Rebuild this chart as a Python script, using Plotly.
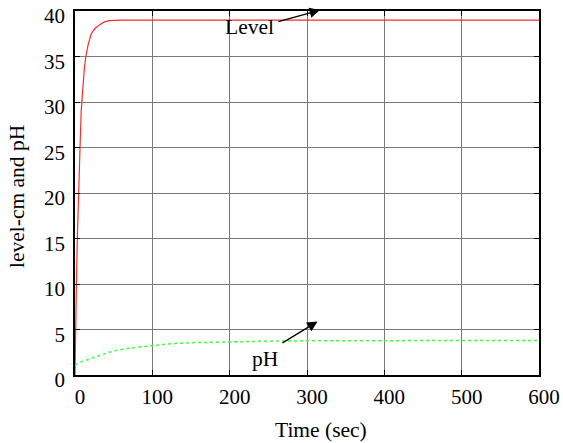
import plotly.graph_objects as go

# Level response (cm)
time_level = [0, 0.5, 1, 2, 3, 4.3, 6.5, 8, 10, 12, 14, 17, 21, 26, 32, 38, 45, 60, 100, 200, 300, 400, 500, 600]
level = [0, 5, 8, 11, 15, 20, 25, 29, 31.8, 33.6, 35, 36.3, 37.5, 38.1, 38.5, 38.8, 38.95, 39, 39, 39, 39, 39, 39, 39]

# pH response
time_ph = [0, 10, 25, 50, 75, 100, 125, 150, 200, 250, 300, 400, 500, 600]
ph = [1.1, 1.5, 1.95, 2.65, 3.0, 3.25, 3.45, 3.55, 3.65, 3.72, 3.76, 3.78, 3.8, 3.8]

x_ticks = [0, 100, 200, 300, 400, 500, 600]
y_ticks = [0, 5, 10, 15, 20, 25, 30, 35, 40]

FONT = "Liberation Serif"

fig = go.Figure()
fig.add_trace(go.Scatter(x=time_level, y=level, mode="lines",
                         line=dict(color="#ff2a2a", width=1.2), name="Level"))
fig.add_trace(go.Scatter(x=time_ph, y=ph, mode="lines",
                         line=dict(color="#40ff40", width=1.5, dash="dot"), name="pH"))

axis_common = dict(showgrid=True, gridcolor="#7a7a7a", gridwidth=1,
                   showline=True, linecolor="black", linewidth=1.8, mirror="allticks",
                   ticks="inside", ticklen=5, tickcolor="black",
                   tickfont=dict(family=FONT, size=21, color="black"),
                   zeroline=False, automargin=False, ticklabeloverflow="allow")

fig.update_xaxes(range=[0, 600], tickvals=x_ticks, ticklabelshift=5, ticklabelstandoff=2,
                 **axis_common)
fig.update_yaxes(range=[0, 40], tickvals=y_ticks, ticklabelshift=5, ticklabelstandoff=4,
                 **axis_common)

# axis titles
fig.add_annotation(xref="paper", yref="paper", x=0.530, y=-0.151, text="Time (sec)",
                   showarrow=False, xanchor="center", yanchor="middle",
                   font=dict(family=FONT, size=21.5, color="black"))
fig.add_annotation(xref="paper", yref="paper", x=-0.125, y=0.489, text="level-cm and pH",
                   showarrow=False, xanchor="center", yanchor="middle", textangle=-90,
                   font=dict(family=FONT, size=21.5, color="black"))

# labels
fig.add_annotation(x=225.6, y=38.2, text="Level", showarrow=False,
                   font=dict(family=FONT, size=21.5, color="black"))
fig.add_annotation(x=246, y=1.8, text="pH", showarrow=False,
                   font=dict(family=FONT, size=21.5, color="black"))
# arrows
fig.add_annotation(x=316.8, y=40.1, ax=261, ay=38.8, axref="x", ayref="y", text="",
                   showarrow=True, arrowhead=2, arrowsize=1.6, arrowwidth=1.3, arrowcolor="black",
                   standoff=0, startstandoff=0)
fig.add_annotation(x=313.7, y=5.88, ax=266.4, ay=3.43, axref="x", ayref="y", text="",
                   showarrow=True, arrowhead=2, arrowsize=1.6, arrowwidth=1.3, arrowcolor="black",
                   standoff=0, startstandoff=0)

fig.update_layout(width=563, height=443, showlegend=False,
                  plot_bgcolor="white", paper_bgcolor="white",
                  margin=dict(l=75, r=24, t=11, b=68),
                  font=dict(family=FONT, color="black"))

# remove the browser's default 8px body margin so the figure fills the window
fig.write_html("out.html", config={"displayModeBar": False},
               post_script="document.body.style.margin='0';")
